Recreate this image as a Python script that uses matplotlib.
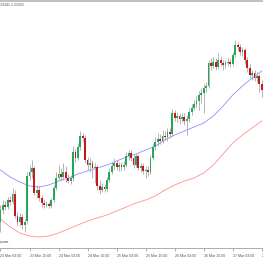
import matplotlib
matplotlib.use('Agg')
import matplotlib.pyplot as plt
from matplotlib.lines import Line2D

# hourly candles, 23 Mar 03:00 onwards
opens = [1.2197, 1.2209, 1.2214, 1.2212, 1.2219, 1.2217, 1.2225, 1.2203, 1.2197, 1.2202,
         1.2194, 1.2198, 1.2243, 1.2247, 1.2251, 1.2226, 1.2229, 1.2221, 1.2216, 1.2214,
         1.2215, 1.2213, 1.2219, 1.2231, 1.2241, 1.2245, 1.2242, 1.2247, 1.2241, 1.2238,
         1.2241, 1.2267, 1.2261, 1.2272, 1.2283, 1.2281, 1.2259, 1.2254, 1.2256, 1.2251,
         1.2252, 1.2233, 1.2229, 1.2232, 1.2230, 1.2239, 1.2247, 1.2253, 1.2256, 1.2252,
         1.2254, 1.2252, 1.2254, 1.2263, 1.2266, 1.2261, 1.2254, 1.2263, 1.2251, 1.2253,
         1.2248, 1.2249, 1.2247, 1.2261, 1.2272, 1.2277, 1.2280, 1.2278, 1.2283, 1.2282,
         1.2287, 1.2285, 1.2306, 1.2301, 1.2303, 1.2300, 1.2302, 1.2298, 1.2300, 1.2307,
         1.2311, 1.2315, 1.2318, 1.2324, 1.2326, 1.2331, 1.2333, 1.2356, 1.2353, 1.2357,
         1.2352, 1.2359, 1.2356, 1.2354, 1.2356, 1.2357, 1.2355, 1.2364, 1.2374, 1.2372,
         1.2367, 1.2369, 1.2359, 1.2351, 1.2344, 1.2346, 1.2341, 1.2343, 1.2335]
highs = [1.2214, 1.2219, 1.2218, 1.2222, 1.2223, 1.2231, 1.2229, 1.2207, 1.2206, 1.2205,
         1.2200, 1.2247, 1.2254, 1.2259, 1.2253, 1.2234, 1.2233, 1.2224, 1.2220, 1.2218,
         1.2217, 1.2221, 1.2234, 1.2247, 1.2254, 1.2251, 1.2256, 1.2253, 1.2245, 1.2244,
         1.2273, 1.2270, 1.2276, 1.2288, 1.2286, 1.2284, 1.2262, 1.2261, 1.2259, 1.2256,
         1.2254, 1.2239, 1.2236, 1.2235, 1.2242, 1.2251, 1.2257, 1.2261, 1.2259, 1.2257,
         1.2257, 1.2258, 1.2267, 1.2269, 1.2269, 1.2264, 1.2266, 1.2265, 1.2256, 1.2256,
         1.2253, 1.2253, 1.2264, 1.2276, 1.2282, 1.2286, 1.2285, 1.2289, 1.2288, 1.2291,
         1.2291, 1.2310, 1.2309, 1.2307, 1.2306, 1.2306, 1.2306, 1.2304, 1.2311, 1.2315,
         1.2319, 1.2323, 1.2328, 1.2331, 1.2335, 1.2337, 1.2359, 1.2361, 1.2362, 1.2361,
         1.2366, 1.2363, 1.2359, 1.2359, 1.2361, 1.2360, 1.2367, 1.2379, 1.2377, 1.2375,
         1.2372, 1.2371, 1.2362, 1.2355, 1.2349, 1.2349, 1.2347, 1.2345, 1.2339]
lows = [1.2187, 1.2205, 1.2209, 1.2210, 1.2214, 1.2215, 1.2201, 1.2193, 1.2193, 1.2190,
        1.2187, 1.2195, 1.2239, 1.2241, 1.2224, 1.2221, 1.2218, 1.2212, 1.2211, 1.2212,
        1.2211, 1.2211, 1.2217, 1.2229, 1.2239, 1.2239, 1.2239, 1.2237, 1.2236, 1.2235,
        1.2238, 1.2257, 1.2259, 1.2269, 1.2278, 1.2256, 1.2249, 1.2247, 1.2241, 1.2236,
        1.2229, 1.2225, 1.2227, 1.2227, 1.2228, 1.2237, 1.2245, 1.2249, 1.2249, 1.2248,
        1.2248, 1.2249, 1.2252, 1.2259, 1.2258, 1.2251, 1.2252, 1.2249, 1.2247, 1.2245,
        1.2241, 1.2243, 1.2245, 1.2259, 1.2269, 1.2273, 1.2275, 1.2276, 1.2279, 1.2278,
        1.2281, 1.2283, 1.2298, 1.2297, 1.2295, 1.2297, 1.2294, 1.2284, 1.2297, 1.2304,
        1.2309, 1.2311, 1.2309, 1.2316, 1.2306, 1.2327, 1.2331, 1.2349, 1.2351, 1.2349,
        1.2350, 1.2353, 1.2349, 1.2351, 1.2353, 1.2352, 1.2353, 1.2362, 1.2369, 1.2364,
        1.2363, 1.2355, 1.2347, 1.2341, 1.2339, 1.2338, 1.2337, 1.2327, 1.2322]
closes = [1.2209, 1.2214, 1.2212, 1.2219, 1.2217, 1.2225, 1.2203, 1.2197, 1.2202, 1.2194,
          1.2197, 1.2243, 1.2247, 1.2251, 1.2226, 1.2229, 1.2221, 1.2216, 1.2214, 1.2215,
          1.2213, 1.2219, 1.2231, 1.2241, 1.2245, 1.2242, 1.2247, 1.2241, 1.2238, 1.2241,
          1.2267, 1.2261, 1.2272, 1.2283, 1.2281, 1.2259, 1.2254, 1.2256, 1.2251, 1.2252,
          1.2233, 1.2229, 1.2232, 1.2230, 1.2239, 1.2247, 1.2253, 1.2256, 1.2252, 1.2254,
          1.2252, 1.2254, 1.2263, 1.2266, 1.2261, 1.2254, 1.2263, 1.2251, 1.2253, 1.2248,
          1.2249, 1.2247, 1.2261, 1.2272, 1.2277, 1.2280, 1.2278, 1.2283, 1.2282, 1.2287,
          1.2285, 1.2306, 1.2301, 1.2303, 1.2300, 1.2302, 1.2298, 1.2300, 1.2307, 1.2311,
          1.2315, 1.2318, 1.2324, 1.2326, 1.2331, 1.2333, 1.2356, 1.2353, 1.2357, 1.2352,
          1.2359, 1.2356, 1.2354, 1.2356, 1.2357, 1.2355, 1.2364, 1.2374, 1.2372, 1.2367,
          1.2369, 1.2359, 1.2351, 1.2344, 1.2346, 1.2341, 1.2343, 1.2335, 1.2329]

# moving averages read every 4th bar
ma_bars = list(range(0, 109, 4))
ma_fast = [1.2249, 1.2242, 1.2237, 1.2233, 1.2232, 1.2234, 1.2238, 1.2241, 1.2245, 1.2248,
           1.2251, 1.2254, 1.2258, 1.2262, 1.2265, 1.2269, 1.2273, 1.2279, 1.2284, 1.2288,
           1.2292, 1.2296, 1.2303, 1.2313, 1.2324, 1.2333, 1.2341, 1.2348]
ma_slow = [1.2200, 1.2192, 1.2186, 1.2183, 1.2182, 1.2183, 1.2186, 1.2190, 1.2194, 1.2198,
           1.2201, 1.2204, 1.2208, 1.2212, 1.2216, 1.2219, 1.2223, 1.2229, 1.2234, 1.2238,
           1.2241, 1.2246, 1.2254, 1.2265, 1.2276, 1.2284, 1.2291, 1.2298]

tick_bars = [0, 12, 24, 36, 48, 60, 72, 84, 96, 108]
tick_labels = ['23 Mar 03:00', '23 Mar 15:00', '24 Mar 03:00', '24 Mar 15:00',
               '25 Mar 03:00', '25 Mar 15:00', '26 Mar 03:00', '26 Mar 15:00',
               '27 Mar 03:00', '27 Mar 15:00']

plt.rcParams['font.family'] = ['Liberation Sans Narrow', 'Liberation Sans', 'DejaVu Sans']

fig = plt.figure(figsize=(2.63, 2.60), dpi=100)
ax = fig.add_axes([0, 12 / 260, 1, 245 / 260])

n = len(opens)
xs = list(range(n))
ax.vlines(xs, lows, highs, color='#a8a8a8', lw=0.6, zorder=2)
up = [c >= o for o, c in zip(opens, closes)]
bottoms = [min(o, c) for o, c in zip(opens, closes)]
heights = [max(abs(c - o), 0.00008) for o, c in zip(opens, closes)]
colors = ['#26a65b' if u else '#c8171e' for u in up]
ax.bar(xs, heights, bottom=bottoms, width=0.75, color=colors, lw=0, zorder=3)

ax.plot(ma_bars, ma_fast, color='#8f8fff', lw=0.6, zorder=1)
ax.plot(ma_bars, ma_slow, color='#ff9090', lw=0.6, zorder=1)

ax.set_xlim(-0.2, 108.5)
ax.set_ylim(1.2171, 1.2416)
ax.set_yticks([])
ax.set_xticks(tick_bars)
ax.set_xticklabels(tick_labels, ha='left')
ax.tick_params(axis='x', direction='out', length=2.5, width=0.5, color='#909090',
               pad=1.5, labelsize=2.6, labelcolor='#505050')
for side in ['left', 'right', 'top']:
    ax.spines[side].set_visible(False)
ax.spines['bottom'].set_color('#a0a0a0')
ax.spines['bottom'].set_linewidth(0.6)

fig.add_artist(Line2D([0, 1], [0.997, 0.997], color='#b4b4b4', lw=1.2,
                      transform=fig.transFigure))
fig.text(0.0, 1 - 5 / 260, '23341 1.23352', fontsize=2.6, color='#505050', va='center')
fig.text(0.0, 1 - 242 / 260, '.com', fontsize=3.2, color='#404040', va='center')

fig.savefig('out.png', dpi=100)
